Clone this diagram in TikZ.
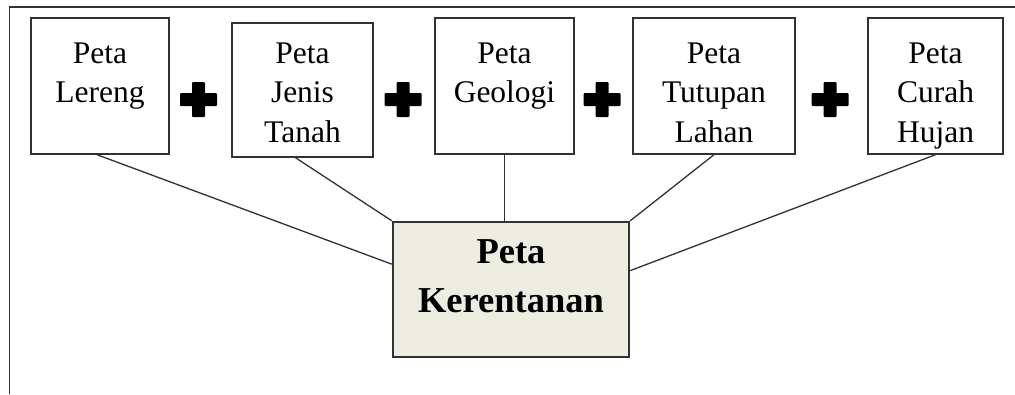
\documentclass[tikz,border=0pt]{standalone}
\usepackage{fontspec}
\setmainfont{Liberation Serif}
\definecolor{boxline}{RGB}{50,50,50}
\definecolor{kerfill}{RGB}{237,236,225}

\begin{document}
\begin{tikzpicture}[x=1pt, y=-1pt,
    petabox/.style={draw=boxline, line width=1.4pt, fill=white, inner sep=0pt,
                    align=center, text height=45pt, text depth=91pt,
                    font=\fontsize{31.5}{39.5}\selectfont},
    hasilbox/.style={draw=boxline, line width=2.4pt, fill=kerfill, inner sep=0pt,
                    align=center, text width=236pt, text height=41pt, text depth=94pt,
                    font=\fontsize{36.5}{49}\selectfont\bfseries},
    link/.style={draw=boxline, line width=1.3pt}]
        \path[fill=white, use as bounding box] (0,0) rectangle (1015,394);  %
        \draw [boxline, line width=1.8pt] (9.5,394) -- (9.5,7) -- (1015,7); %frame

        \node[petabox, text width=138pt] (lereng)  at (100,86)    {Peta\\Lereng};          %
        \node[petabox, text width=141pt, text height=40pt, text depth=94pt] (jenis) at (302.5,90) {Peta\\Jenis\\Tanah}; %
        \node[petabox, text width=139pt] (geologi) at (504.5,86)  {Peta\\Geologi};         %
        \node[petabox, text width=162pt] (tutupan) at (714,86)    {Peta\\Tutupan\\Lahan};  %
        \node[petabox, text width=135pt] (curah)   at (935.5,86)  {Peta\\Curah\\Hujan};    %

        \node[hasilbox] (kerentanan) at (511,289.5) {Peta\\Kerentanan};                   %

        \foreach \px in {198.5,403,602,830}{%                                              plus
            \fill[rounded corners=1pt] (\px-18.5,93) rectangle (\px+18.5,106);
            \fill[rounded corners=1pt] (\px-6.5,82)  rectangle (\px+6.5,117);
        }

        \draw [link] ([xshift=-3pt]lereng.south) -- (kerentanan.168);                     %
        \draw [link] ([xshift=-7pt]jenis.south)  -- (kerentanan.north west);              %
        \draw [link] (geologi.south) -- (geologi.south |- kerentanan.north);              %
        \draw [link] (tutupan.south) -- (kerentanan.north east);                          %
        \draw [link] (curah.south)   -- (kerentanan.9);                                   %
\end{tikzpicture}
\end{document}
